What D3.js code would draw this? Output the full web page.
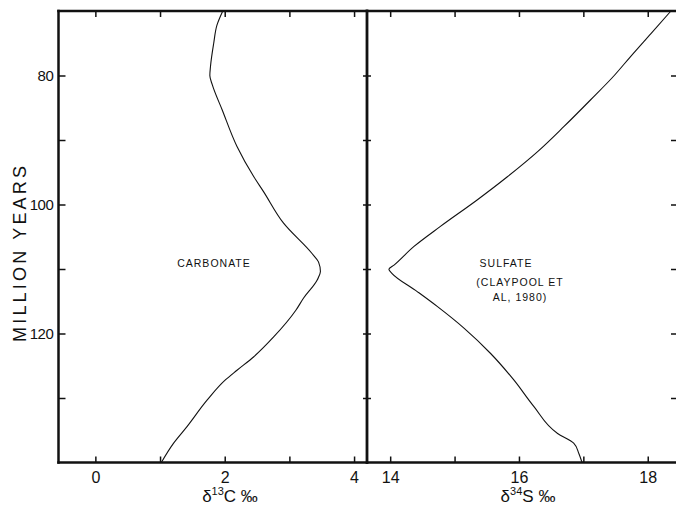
<!DOCTYPE html>
<html>
<head>
<meta charset="utf-8">
<script src="https://cdn.jsdelivr.net/npm/d3@7"></script>
<style>
  body { margin: 0; background: #fff; }
  svg { display: block; }
  text { font-family: "Liberation Sans", Arial, sans-serif; fill: #111; }
</style>
</head>
<body>
<svg id="chart" width="676" height="506"></svg>
<script>
// Carbonate carbon-isotope curve (age in Ma, δ13C in ‰)
const carbonateAge  = [70, 72.2, 75, 78.6, 80, 81.5, 85.3, 91, 95.7, 98.0, 102.9, 107.6, 108.9, 110.4, 111.7, 114.5, 116.4, 120.5, 123.6, 125.7, 127.2, 130.3, 134.4, 137, 140];
const carbonateD13C = [1.97, 1.88, 1.83, 1.78, 1.77, 1.81, 1.96, 2.19, 2.45, 2.60, 2.91, 3.35, 3.45, 3.48, 3.43, 3.22, 3.10, 2.76, 2.45, 2.19, 2.01, 1.73, 1.42, 1.21, 1.02];

// Sulfate sulfur-isotope curve (Claypool et al., 1980)
const sulfateAge  = [70, 73.5, 77.1, 80, 83.8, 87.9, 91.8, 95.7, 99.3, 103.4, 106.5, 109.4, 110.05, 110.7, 113.5, 115.8, 119.2, 123.1, 127.2, 131.3, 135.5, 137, 138.6, 140];
const sulfateD34S = [18.36, 18.05, 17.73, 17.48, 17.11, 16.70, 16.29, 15.82, 15.35, 14.78, 14.37, 14.06, 13.98, 14.03, 14.42, 14.73, 15.15, 15.56, 15.92, 16.23, 16.60, 16.85, 16.93, 16.98];

// Axis ticks and labels
const ageTicks = [80, 90, 100, 110, 120, 130];
const ageLabels = [80, 100, 120];
const carbonTicks = [0, 1, 2, 3, 4];
const carbonLabels = [0, 2, 4];
const sulfurTicks = [14, 15, 16, 17, 18];
const sulfurLabels = [14, 16, 18];

const frameL = 58.5, frameM = 367, frameR = 678, frameT = 11, frameB = 462.5;

const svg = d3.select("#chart");

const y = d3.scaleLinear().domain([70, 140]).range([frameT, frameB]);
const xC = d3.scaleLinear().domain([-0.57, 4.2]).range([frameL, frameM]);
const xS = d3.scaleLinear().domain([13.64, 18.47]).range([frameM, frameR]);

function styleAxis(g, fontSize) {
  g.select(".domain").remove();
  g.selectAll(".tick line").attr("stroke", "#111").attr("stroke-width", 1.5);
  g.selectAll(".tick text")
    .attr("fill", "#111")
    .style("font-family", '"Liberation Sans", Arial, sans-serif')
    .style("font-size", fontSize + "px");
}

// Left age axis: inner ticks, then labels
svg.append("g").attr("transform", `translate(${frameL},0)`)
  .call(d3.axisRight(y).tickValues(ageTicks).tickSize(7).tickFormat(""))
  .call(g => styleAxis(g, 16));
svg.append("g").attr("transform", `translate(${frameL},0)`)
  .call(d3.axisLeft(y).tickValues(ageLabels).tickSize(0).tickPadding(5).tickFormat(d3.format("d")))
  .call(g => styleAxis(g, 15))
  .call(g => g.selectAll(".tick text").style("letter-spacing", "-0.4px"));

// Divider ticks on both sides
svg.append("g").attr("transform", `translate(${frameM},0)`)
  .call(d3.axisLeft(y).tickValues(ageTicks).tickSize(4).tickFormat(""))
  .call(g => styleAxis(g, 16));
svg.append("g").attr("transform", `translate(${frameM},0)`)
  .call(d3.axisRight(y).tickValues(ageTicks).tickSize(4).tickFormat(""))
  .call(g => styleAxis(g, 16));

// Right edge ticks
svg.append("g").attr("transform", `translate(${frameR},0)`)
  .call(d3.axisLeft(y).tickValues(ageTicks).tickSize(7).tickFormat(""))
  .call(g => styleAxis(g, 16));

// Bottom and top axes for both panels
[[xC, carbonTicks, carbonLabels], [xS, sulfurTicks, sulfurLabels]].forEach(([sx, tks, lbs]) => {
  svg.append("g").attr("transform", `translate(0,${frameB})`)
    .call(d3.axisTop(sx).tickValues(tks).tickSize(6).tickFormat(""))
    .call(g => styleAxis(g, 16));
  svg.append("g").attr("transform", `translate(0,${frameB})`)
    .call(d3.axisBottom(sx).tickValues(lbs).tickSize(0).tickPadding(9).tickFormat(d3.format("d")))
    .call(g => styleAxis(g, 16));
  svg.append("g").attr("transform", `translate(0,${frameT})`)
    .call(d3.axisBottom(sx).tickValues(tks).tickSize(6).tickFormat(""))
    .call(g => styleAxis(g, 16));
});

// Frame
const frame = svg.append("g").attr("stroke", "#111").attr("fill", "none").attr("stroke-linecap", "square");
frame.append("line").attr("x1", frameL).attr("x2", frameR).attr("y1", frameT).attr("y2", frameT).attr("stroke-width", 2.5);
frame.append("line").attr("x1", frameL).attr("x2", frameR).attr("y1", frameB).attr("y2", frameB).attr("stroke-width", 2.5);
frame.append("line").attr("x1", frameL).attr("x2", frameL).attr("y1", frameT).attr("y2", frameB).attr("stroke-width", 2.5);
frame.append("line").attr("x1", frameM).attr("x2", frameM).attr("y1", frameT).attr("y2", frameB).attr("stroke-width", 2.8);
frame.append("line").attr("x1", frameR).attr("x2", frameR).attr("y1", frameT).attr("y2", frameB).attr("stroke-width", 2.5);

// Curves
const carbonate = carbonateAge.map((a, i) => ({ age: a, v: carbonateD13C[i] }));
const sulfate = sulfateAge.map((a, i) => ({ age: a, v: sulfateD34S[i] }));

svg.append("path").datum(carbonate)
  .attr("fill", "none").attr("stroke", "#111").attr("stroke-width", 1.1)
  .attr("d", d3.line().x(d => xC(d.v)).y(d => y(d.age)).curve(d3.curveMonotoneY));

svg.append("path").datum(sulfate)
  .attr("fill", "none").attr("stroke", "#111").attr("stroke-width", 1.1)
  .attr("d", d3.line().x(d => xS(d.v)).y(d => y(d.age)).curve(d3.curveMonotoneY));

// Curve labels
const small = (txt, x, yy) => svg.append("text").attr("x", x).attr("y", yy)
  .attr("text-anchor", "middle").style("font-size", "10.5px").style("letter-spacing", "1px").text(txt);
small("CARBONATE", 214, 267);
small("SULFATE", 506, 267);
small("(CLAYPOOL ET", 520, 286);
small("AL, 1980)", 520, 301);

// Axis titles
svg.append("text")
  .attr("transform", "translate(26,254) rotate(-90)")
  .attr("text-anchor", "middle")
  .attr("textLength", 176).attr("lengthAdjust", "spacing")
  .style("font-size", "18px")
  .text("MILLION YEARS");

function isoTitle(x, el, mass) {
  const t = svg.append("text").attr("x", x).attr("y", 502).attr("text-anchor", "middle").style("font-size", "17px");
  t.append("tspan").text("δ");
  t.append("tspan").attr("dy", -7).style("font-size", "11px").text(mass);
  t.append("tspan").attr("dy", 7).text(el + " ‰");
}
isoTitle(230, "C", "13");
isoTitle(528, "S", "34");
</script>
</body>
</html>
